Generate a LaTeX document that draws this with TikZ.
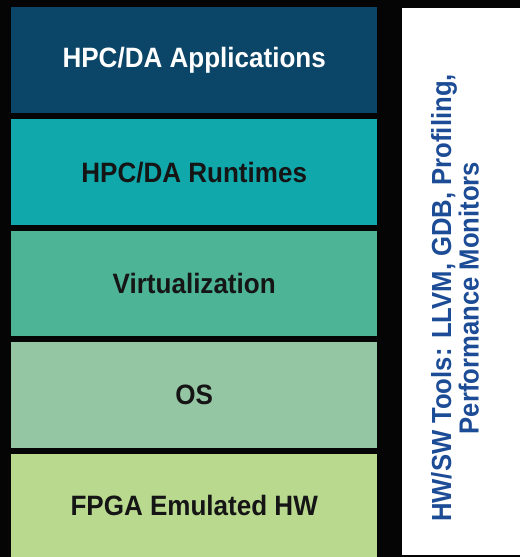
\documentclass[tikz,border=0pt]{standalone}
\usepackage{fontspec}
\setmainfont[FakeStretch=0.93]{Liberation Sans}
\definecolor{bgblack}{HTML}{050505}
\definecolor{cnavy}{HTML}{0B4567}
\definecolor{cteal}{HTML}{10A8AB}
\definecolor{csea}{HTML}{4DB496}
\definecolor{csage}{HTML}{94C6A3}
\definecolor{clime}{HTML}{B9D98F}
\definecolor{ctext}{HTML}{151515}
\definecolor{cblue}{HTML}{1C4C96}
\begin{document}
\begin{tikzpicture}[x=1pt,y=-1pt,
  layer/.style={rectangle,inner sep=0pt,minimum width=366pt,anchor=north west,
    font=\bfseries\fontsize{28}{30}\selectfont,text=ctext}]
\fill[bgblack] (0,0) rectangle (520,557);
\useasboundingbox (0,0) rectangle (520,557);
\node[layer,fill=cnavy,text=white,minimum height=106pt] (apps) at (11,7) {HPC/DA Applications};
\node[layer,fill=cteal,minimum height=106pt] (rt) at (11,119) {HPC/DA Runtimes};
\node[layer,fill=csea,minimum height=105pt] (virt) at (11,231) {Virtualization};
\node[layer,fill=csage,minimum height=106pt] (os) at (11,342) {OS};
\node[layer,fill=clime,minimum height=103pt] (fpga) at (11,454) {FPGA Emulated HW};
\node[rectangle,fill=white,inner sep=0pt,minimum width=118pt,minimum height=547pt,anchor=north west] (tools) at (402,8) {};
\node[rotate=90,align=center,text=cblue,font=\bfseries\fontsize{27.6}{27.5}\selectfont] (toolstext) at (455,298)
  {HW/SW Tools: LLVM, GDB, Profiling,\\Performance Monitors};
\end{tikzpicture}
\end{document}
